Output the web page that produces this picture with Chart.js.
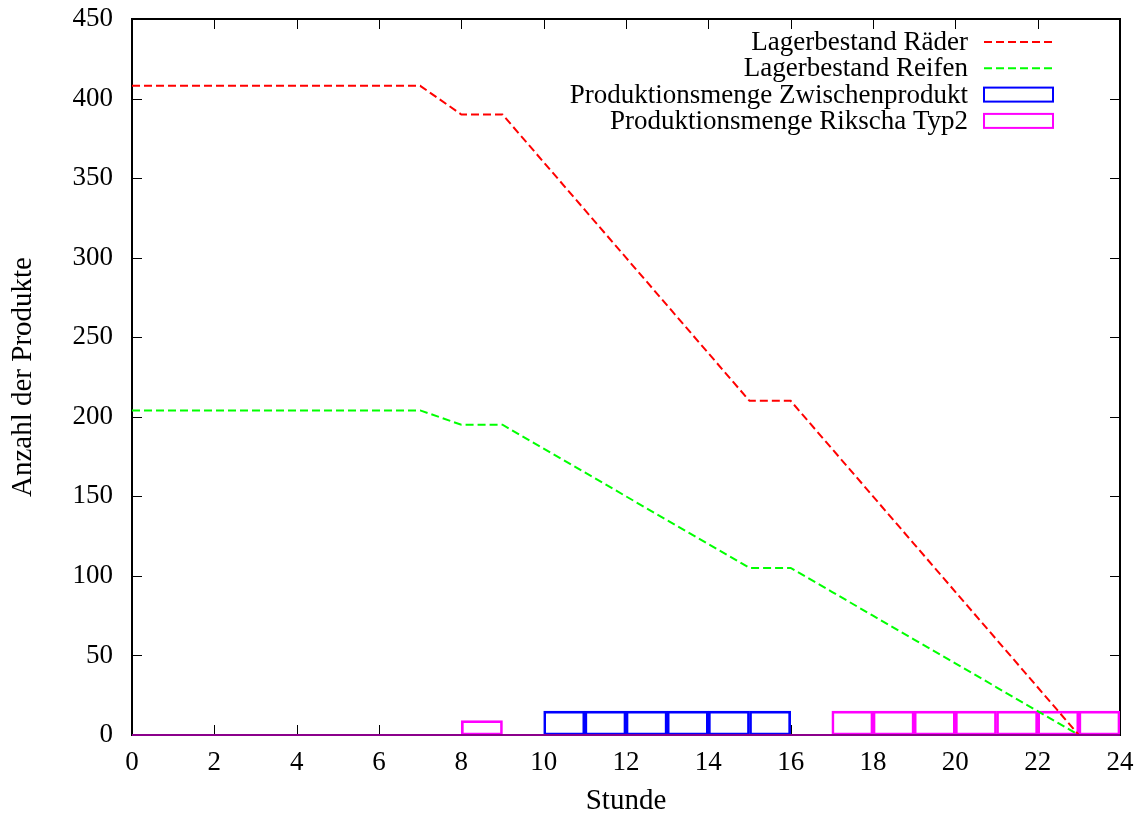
<!DOCTYPE html>
<html><head><meta charset="utf-8">
<script src="https://cdn.jsdelivr.net/npm/chart.js@4"></script>
<style>html,body{margin:0;padding:0;background:#fff}</style>
</head><body>
<canvas id="c" width="1147" height="814"></canvas>
<script>
// Stunde (hour index)
const hours = [0,1,2,3,4,5,6,7,8,9,10,11,12,13,14,15,16,17,18,19,20,21,22,23];
const lagerRaeder = [408,408,408,408,408,408,408,408,390,390,360,330,300,270,240,210,210,180,150,120,90,60,30,0];
const lagerReifen = [204,204,204,204,204,204,204,204,195,195,180,165,150,135,120,105,105,90,75,60,45,30,15,0];
const prodZwischen = [0,0,0,0,0,0,0,0,0,0,15,15,15,15,15,15,0,0,0,0,0,0,0,0];
const prodRikscha = [0,0,0,0,0,0,0,0,9,0,0,0,0,0,0,0,0,15,15,15,15,15,15,15];
const xTicks = [0,2,4,6,8,10,12,14,16,18,20,22,24];
const yTicks = [0,50,100,150,200,250,300,350,400,450];
const labels = ['Lagerbestand Räder','Lagerbestand Reifen','Produktionsmenge Zwischenprodukt','Produktionsmenge Rikscha Typ2'];

const FONT = "'Liberation Serif', 'Times New Roman', serif";
Chart.defaults.font.family = FONT;
Chart.defaults.font.size = 27;
Chart.defaults.color = '#000';

const framePlugin = {
  id: 'frame',
  beforeDatasetsDraw(chart) {
    const {ctx, chartArea: a, scales: {x, y}} = chart;
    ctx.save();
    ctx.strokeStyle = '#000';
    ctx.lineWidth = 1;
    ctx.beginPath();
    x.ticks.forEach(t => {
      const px = Math.round(x.getPixelForValue(t.value)) + 0.5;
      ctx.moveTo(px, a.bottom); ctx.lineTo(px, a.bottom - 10);
      ctx.moveTo(px, a.top); ctx.lineTo(px, a.top + 10);
    });
    y.ticks.forEach(t => {
      const py = Math.round(y.getPixelForValue(t.value)) + 0.5;
      ctx.moveTo(a.left, py); ctx.lineTo(a.left + 10, py);
      ctx.moveTo(a.right, py); ctx.lineTo(a.right - 10, py);
    });
    ctx.stroke();
    ctx.lineWidth = 2;
    ctx.strokeRect(a.left, a.top, a.right - a.left, a.bottom - a.top);
    ctx.restore();
  },
  afterDatasetsDraw(chart) {
    const {ctx, chartArea: a, scales: {x, y}} = chart;
    ctx.save();
    // zero-height boxes line at y = 0
    const y0 = y.getPixelForValue(0);
    ctx.strokeStyle = '#8b008b';
    ctx.lineWidth = 2;
    ctx.beginPath();
    ctx.moveTo(x.getPixelForValue(0), y0);
    ctx.lineTo(x.getPixelForValue(24), y0);
    ctx.stroke();
    // legend inside plot, top right
    ctx.font = '27px ' + FONT;
    ctx.textAlign = 'right';
    ctx.textBaseline = 'middle';
    chart.data.datasets.forEach((ds, i) => {
      const cy = a.top + 23 + i * 26.3;
      ctx.fillStyle = '#000';
      ctx.fillText(ds.label, a.right - 152, cy + 1);
      ctx.strokeStyle = ds.borderColor;
      ctx.lineWidth = 2;
      if (ds.type === 'line') {
        ctx.setLineDash([8, 4]);
        ctx.beginPath();
        ctx.moveTo(a.right - 136, cy);
        ctx.lineTo(a.right - 67, cy);
        ctx.stroke();
        ctx.setLineDash([]);
      } else {
        ctx.strokeRect(a.right - 136, cy - 7, 69, 14);
      }
    });
    ctx.restore();
  }
};

const lineData = arr => hours.map((h, i) => ({x: h, y: arr[i]}));
const boxData = arr => hours.map((h, i) => ({x: h + 0.5, y: arr[i]}));

new Chart(document.getElementById('c'), {
  data: {
    datasets: [
      {type: 'line', label: labels[0], data: lineData(lagerRaeder), borderColor: '#ff0000', borderWidth: 2, borderDash: [8, 4], pointRadius: 0, tension: 0, fill: false},
      {type: 'line', label: labels[1], data: lineData(lagerReifen), borderColor: '#00ff00', borderWidth: 2, borderDash: [8, 4], pointRadius: 0, tension: 0, fill: false},
      {type: 'bar', label: labels[2], data: boxData(prodZwischen), borderColor: '#0000ff', backgroundColor: 'rgba(0,0,0,0)', borderWidth: 2, borderSkipped: false, grouped: false, barPercentage: 1, categoryPercentage: 1},
      {type: 'bar', label: labels[3], data: boxData(prodRikscha), borderColor: '#ff00ff', backgroundColor: 'rgba(0,0,0,0)', borderWidth: 2, borderSkipped: false, grouped: false, barPercentage: 1, categoryPercentage: 1}
    ]
  },
  options: {
    responsive: false,
    animation: false,
    layout: {padding: {top: 19, right: 27, left: 0, bottom: 0}},
    plugins: {legend: {display: false}, tooltip: {enabled: false}},
    scales: {
      x: {
        type: 'linear', min: 0, max: 24, offset: false,
        afterBuildTicks: s => { s.ticks = xTicks.map(v => ({value: v})); },
        afterFit: s => { s.height = 79; s.paddingLeft = 0; s.paddingRight = 0; },
        grid: {display: false, drawTicks: false, offset: false},
        border: {display: false},
        ticks: {padding: 12, maxRotation: 0, autoSkip: false},
        title: {display: true, text: 'Stunde', font: {size: 29, lineHeight: 1}, padding: {top: 0, bottom: -2}}
      },
      y: {
        type: 'linear', min: 0, max: 450,
        afterBuildTicks: s => { s.ticks = yTicks.map(v => ({value: v})); },
        afterFit: s => { s.width = 132; s.paddingTop = 0; s.paddingBottom = 0; },
        grid: {display: false, drawTicks: false},
        border: {display: false},
        ticks: {padding: 19, autoSkip: false},
        title: {display: true, text: 'Anzahl der Produkte', font: {size: 29, lineHeight: 1}, padding: {top: 8.5, bottom: 0}}
      }
    }
  },
  plugins: [framePlugin]
});
</script>
</body></html>
